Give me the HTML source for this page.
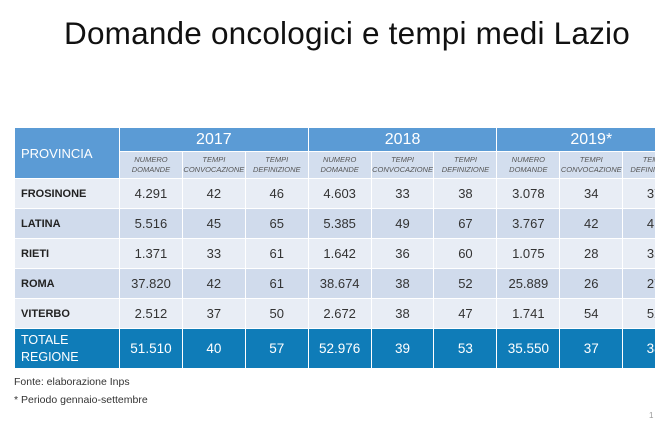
<!DOCTYPE html>
<html><head><meta charset="utf-8"><style>
body{margin:0;width:655px;height:437px;background:#fff;overflow:hidden;position:relative;font-family:"Liberation Sans",sans-serif}
h1{position:absolute;left:0;width:694px;top:15px;margin:0;text-align:center;font-weight:normal;font-size:31.5px;color:#111;letter-spacing:0.2px}
.w{position:absolute;left:14px;top:127px;width:700px}
table{border-collapse:collapse;table-layout:fixed;width:671px}
td{border:1px solid #fff;text-align:center;padding:0;color:#333;font-size:13px;overflow:hidden;white-space:nowrap}
.yr{background:#5b9bd5;color:#fff;font-size:16px;height:23px}
.prov{background:#5b9bd5;color:#fff;text-align:left;padding-left:6px;font-size:13px}
.sub td{background:#d3deee;font-style:italic;font-size:7.5px;color:#555;height:26px;line-height:10px}
.a td{background:#e8edf5;height:29px}
.b td{background:#d0dbec;height:29px}
.n{text-align:left!important;padding-left:6px!important;font-weight:bold;font-size:11px!important;color:#222!important}
.t td{background:#0f7cb8;color:#fff;height:39px;font-size:13.5px}
.t td.n{color:#fff!important;font-weight:normal;font-size:12.5px!important;line-height:17px;white-space:normal}
.f{position:absolute;left:14px;font-size:10.5px;color:#333}
</style></head><body>
<h1>Domande oncologici e tempi medi Lazio</h1>
<div class="w"><table>
<colgroup><col style="width:105px"><col span="9" style="width:62.9px"></colgroup>
<tr><td class="prov" rowspan="2">PROVINCIA</td><td class="yr" colspan="3">2017</td><td class="yr" colspan="3">2018</td><td class="yr" colspan="3">2019*</td></tr>
<tr class="sub"><td>NUMERO<br>DOMANDE</td><td>TEMPI<br>CONVOCAZIONE</td><td>TEMPI<br>DEFINIZIONE</td><td>NUMERO<br>DOMANDE</td><td>TEMPI<br>CONVOCAZIONE</td><td>TEMPI<br>DEFINIZIONE</td><td>NUMERO<br>DOMANDE</td><td>TEMPI<br>CONVOCAZIONE</td><td>TEMPI<br>DEFINIZIONE</td></tr>
<tr class="a"><td class="n">FROSINONE</td><td>4.291</td><td>42</td><td>46</td><td>4.603</td><td>33</td><td>38</td><td>3.078</td><td>34</td><td>37</td></tr>
<tr class="b"><td class="n">LATINA</td><td>5.516</td><td>45</td><td>65</td><td>5.385</td><td>49</td><td>67</td><td>3.767</td><td>42</td><td>41</td></tr>
<tr class="a"><td class="n">RIETI</td><td>1.371</td><td>33</td><td>61</td><td>1.642</td><td>36</td><td>60</td><td>1.075</td><td>28</td><td>35</td></tr>
<tr class="b"><td class="n">ROMA</td><td>37.820</td><td>42</td><td>61</td><td>38.674</td><td>38</td><td>52</td><td>25.889</td><td>26</td><td>27</td></tr>
<tr class="a"><td class="n">VITERBO</td><td>2.512</td><td>37</td><td>50</td><td>2.672</td><td>38</td><td>47</td><td>1.741</td><td>54</td><td>52</td></tr>
<tr class="t"><td class="n">TOTALE<br>REGIONE</td><td>51.510</td><td>40</td><td>57</td><td>52.976</td><td>39</td><td>53</td><td>35.550</td><td>37</td><td>38</td></tr>
</table></div>
<div class="f" style="top:376px">Fonte: elaborazione Inps</div>
<div class="f" style="top:394px">* Periodo gennaio-settembre</div>
<div class="f" style="left:649px;top:411px;font-size:8px;color:#999">1</div>
</body></html>
